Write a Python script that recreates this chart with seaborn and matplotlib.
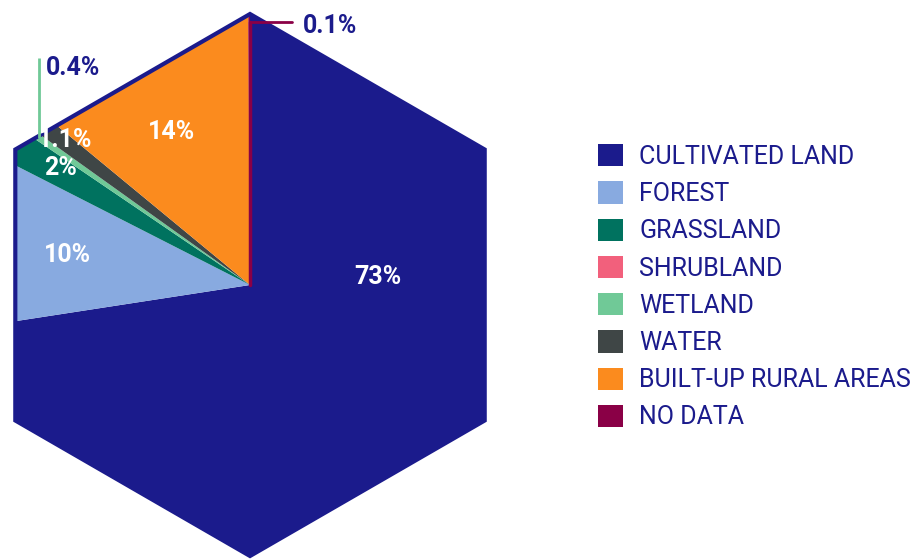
import numpy as np
import matplotlib
matplotlib.use("Agg")
import matplotlib.pyplot as plt
from matplotlib.patches import Polygon, Patch
import seaborn as sns

# -------------------------------
# Data
# -------------------------------
categories = ["CULTIVATED LAND", "FOREST", "GRASSLAND", "SHRUBLAND",
              "WETLAND", "WATER", "BUILT-UP RURAL AREAS", "NO DATA"]
shares = [73, 10, 2, 0, 0.4, 1.1, 14, 0.1]
share_labels = ["73%", "10%", "2%", "", "0.4%", "1.1%", "14%", "0.1%"]
colors = ["#1b1b8c", "#88aae0", "#00725f", "#f2607c",
          "#70c997", "#3f4646", "#fb8b1e", "#8a0046"]

NAVY = "#1b1b8c"

sns.set_theme(style="white")
plt.rcParams["font.family"] = ["Roboto", "DejaVu Sans"]

fig = plt.figure(figsize=(9.17, 5.59), dpi=100)
ax = fig.add_axes([0, 0, 1, 1])

# hexagon (pointy top), pixel-like coordinates
cx, cy, R = 250, 274, 271
hex_ang = np.deg2rad(np.arange(90, 450, 60))
hexagon = Polygon(np.column_stack([cx + R * np.cos(hex_ang), cy + R * np.sin(hex_ang)]),
                  closed=True, facecolor="none", edgecolor=NAVY, lw=3, zorder=5)
ax.add_patch(hexagon)

wedges, _ = ax.pie(shares, colors=colors, startangle=90, counterclock=False,
                   center=(cx, cy), radius=R * 1.3,
                   wedgeprops=dict(linewidth=0))
for w in wedges:
    w.set_clip_on(True)
    w.set_clip_path(hexagon)

ax.set_xlim(0, 917)
ax.set_ylim(0, 559)
ax.set_aspect("equal")
ax.axis("off")


def edge_point(theta, inset=0):
    # where a ray from the centre meets the hexagon border
    d = ((theta + 30) % 60) - 30
    r = R * np.cos(np.deg2rad(30)) / np.cos(np.deg2rad(d)) - inset
    return cx + r * np.cos(np.deg2rad(theta)), cy + r * np.sin(np.deg2rad(theta))


# -------------------------------
# Labels (positions in pixels from top)
# -------------------------------
inside_pos = {"73%": (378, 277), "14%": (172, 132), "10%": (68, 255),
              "2%": (61, 168), "1.1%": (65, 140)}
for lab, (px, py) in inside_pos.items():
    ax.text(px, 559 - py, lab, color="white", fontsize=18, fontweight="bold",
            ha="center", va="center", zorder=6)

# wetland leader
wet = wedges[4]
ex, ey = edge_point((wet.theta1 + wet.theta2) / 2, inset=2)
ax.plot([ex, ex], [ey, 559 - 58], color=colors[4], lw=2, zorder=6,
        solid_capstyle="butt")
ax.text(ex + 7, 559 - 68, share_labels[4], color=NAVY, fontsize=18,
        fontweight="bold", ha="left", va="center")

# no data leader
nd = wedges[7]
nx, ny = edge_point((nd.theta1 + nd.theta2) / 2, inset=8)
ax.plot([cx, cx], [cy, ny], color=colors[7], lw=2.5, zorder=4)
ax.plot([cx, 292], [ny, ny], color=colors[7], lw=2, zorder=6)
ax.text(303, 559 - 26, share_labels[7], color=NAVY, fontsize=18,
        fontweight="bold", ha="left", va="center")

# -------------------------------
# Legend
# -------------------------------
handles = [Patch(facecolor=c, edgecolor="none") for c in colors]
ax.legend(handles, categories, loc="upper left",
          bbox_to_anchor=(598 / 917, 1 - 144 / 559), frameon=False,
          fontsize=18, labelcolor=NAVY, handlelength=1.0, handleheight=1.0,
          handletextpad=0.65, labelspacing=0.5, borderpad=0, borderaxespad=0)

fig.savefig("out.png", dpi=100)
